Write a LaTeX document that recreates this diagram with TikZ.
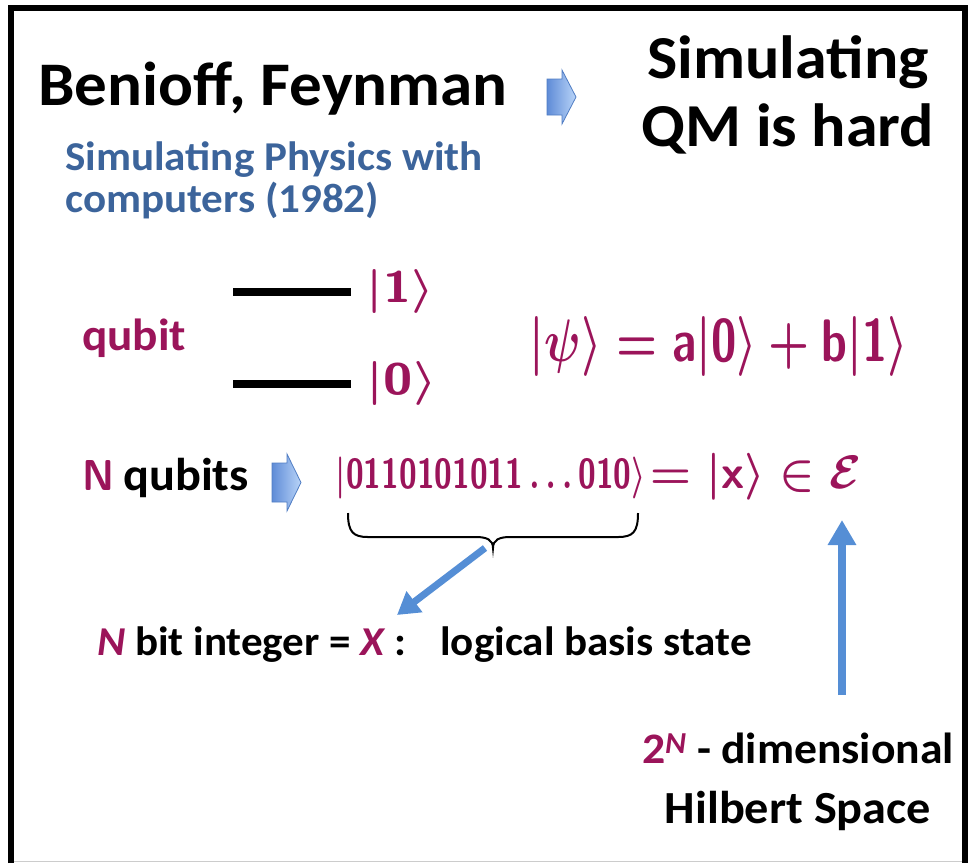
\documentclass[tikz,border=0pt]{standalone}
\usepackage{amsmath}
\usepackage{fontspec}
\setmainfont{Carlito}[FakeStretch=1.05]
\usepackage{graphicx}
\usetikzlibrary{arrows.meta}
\definecolor{hw}{RGB}{155,20,90}
\definecolor{tblue}{RGB}{60,100,155}
\definecolor{abl}{RGB}{85,142,213}
\definecolor{blkL}{RGB}{95,140,215}
\definecolor{blkR}{RGB}{185,212,248}
\definecolor{blkD}{RGB}{80,125,195}
\newcommand{\hwmath}[1]{\mbox{\boldmath$#1$}}
\tikzset{
  hwnode/.style={inner sep=0pt, text=hw},
  txt/.style={inner sep=0pt, anchor=base west},
  blockarr/.style={draw=blkD, line width=0.8pt, left color=blkL, right color=blkR, shading angle=90},
  bluearrow/.style={draw=abl, line width=7pt, -{Triangle[length=22pt,width=25pt]}},
  level/.style={line width=8pt, black}
}
\begin{document}
\begin{tikzpicture}[x=1pt,y=-1pt]
\useasboundingbox (0,0) rectangle (974,863);
% frame
\draw[line width=6pt] (11,863) -- (11,7.5) -- (964.5,7.5) -- (964.5,863);
\draw[gray!40, line width=1.5pt] (14,861.5) -- (961.5,861.5);

% title row
\node[txt, font=\fontsize{62}{72}\selectfont\bfseries] (title) at (38,105) {Benioff, Feynman};
\shade[blockarr] (547,79) -- (562,79) -- (562,70) -- (576,97) -- (562,124) -- (562,115) -- (547,115) -- cycle;
\node[inner sep=0pt, anchor=base, font=\fontsize{61}{72}\selectfont\bfseries] (hard1) at (788,78) {Simulating};
\node[inner sep=0pt, anchor=base, font=\fontsize{61}{72}\selectfont\bfseries] (hard2) at (788,146) {QM is hard};
\node[txt, text=tblue, font=\fontsize{41}{48}\selectfont\bfseries] (sub1) at (65,170) {Simulating Physics with};
\node[txt, text=tblue, font=\fontsize{41}{48}\selectfont\bfseries] (sub2) at (65,212) {computers (1982)};

% qubit
\node[txt, text=hw, font=\fontsize{45}{52}\selectfont\bfseries] (qubit) at (82,350) {qubit};
\coordinate (l1a) at (233,292); \coordinate (l1b) at (351,292);
\coordinate (l0a) at (233,383.5); \coordinate (l0b) at (351,383.5);
\draw[level] (l1a) -- (l1b);
\draw[level] (l0a) -- (l0b);
\node[hwnode] (k1) at (400.5,291.5) {\resizebox*{67pt}{44pt}{\hwmath{\lvert\mathsf{1}\rangle}}};
\node[hwnode] (k0) at (402,383.5) {\resizebox*{70pt}{44pt}{\hwmath{\lvert\mathsf{0}\rangle}}};
\node[hwnode] (psi) at (719,346.5) {\resizebox*{378pt}{60pt}{\hwmath{\lvert\psi\rangle=\mathsf{a}\lvert\mathsf{0}\rangle+\mathsf{b}\lvert\mathsf{1}\rangle}}};

% N qubits
\node[hwnode] (Nh) at (99,475) {\resizebox*{32pt}{30pt}{\sffamily\bfseries N}};
\node[txt, font=\fontsize{46}{54}\selectfont\bfseries] (qubits) at (123,490) {qubits};
\shade[blockarr] (272,463) -- (287,463) -- (287,454) -- (301,482.5) -- (287,511) -- (287,502) -- (272,502) -- cycle;
\node[hwnode] (ket) at (491,478) {\resizebox*{310pt}{42pt}{\hwmath{\lvert\mathsf{0110101011}\ldots\mathsf{010}\rangle}}};
\node[hwnode] (eq) at (756,476.5) {\resizebox*{212pt}{47pt}{\hwmath{=\lvert\mathsf{x}\rangle\in\mathcal{E}}}};

% brace
\coordinate (btip) at (493,548);
\draw[line width=2pt] (348,513) .. controls (348,532) and (353,537) .. (368,537) -- (476,537)
  .. controls (487,537) and (493,540) .. (btip)
  .. controls (493,540) and (499,537) .. (510,537) -- (618,537)
  .. controls (633,537) and (638,532) .. (638,513);

% arrows
\coordinate (bt) at (485,548);
\coordinate (bh) at (397,615);
\draw[bluearrow] (bt) -- (bh);
\coordinate (vt) at (842,695);
\coordinate (vh) at (842,520);
\draw[bluearrow, line width=8pt, -{Triangle[length=25pt,width=27pt]}] (vt) -- (vh);

% bottom texts
\node[txt, font=\fontsize{41}{50}\selectfont\bfseries] (bitint) at (97,655) {{\color{hw}\itshape N} bit integer = {\color{hw}\itshape X} :\hspace{0.6em} logical basis state};
\node[inner sep=0pt, anchor=base, font=\fontsize{43.5}{54}\selectfont\bfseries] (dim) at (798,763) {{\color{hw}2\textsuperscript{\itshape N}} - dimensional};
\node[inner sep=0pt, anchor=base, font=\fontsize{46}{54}\selectfont\bfseries] (hil) at (798,823) {Hilbert Space};
\end{tikzpicture}
\end{document}
